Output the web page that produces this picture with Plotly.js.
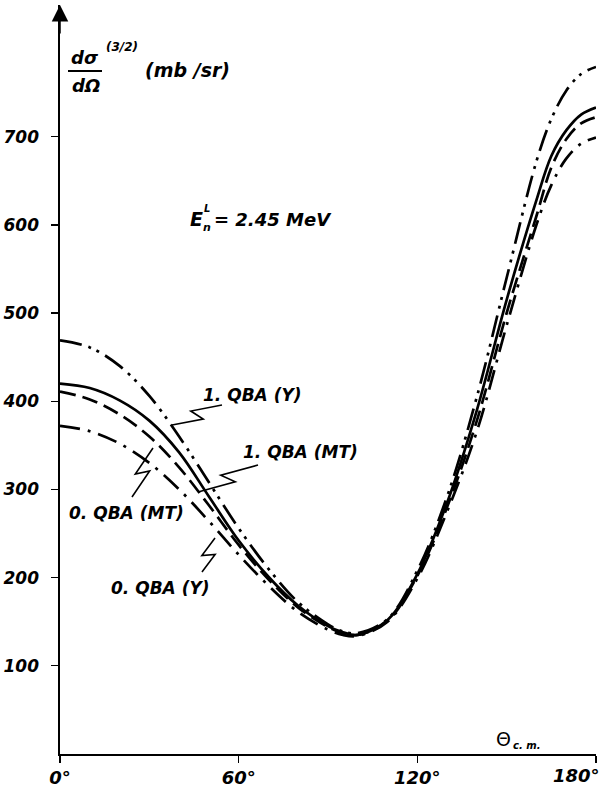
<!DOCTYPE html>
<html>
<head>
<meta charset="utf-8">
<script src="https://cdn.plot.ly/plotly-3.0.1.min.js"></script>
<style>html,body{margin:0;padding:0;background:#fff;}#chart{width:604px;height:791px;}</style>
</head>
<body>
<div id="chart"></div>
<script>
// Scattering angle (degrees, c.m.)
var theta = [0,10,20,30,40,50,60,70,80,90,95,100,110,120,130,140,150,160,165,170,175,180];
// Cross sections dσ/dΩ (mb/sr)
var qba1Y  = [469,461,440,406,360,308,256,210,172,147,139,137,153,208,292,405,540,672,720,752,771,779];
var qba1MT = [420,415,401,378,342,292,242,201,168,145,138,135,152,204,285,390,515,628,678,707,725,733];
var qba0MT = [411,402,385,360,325,282,237,198,166,144,137,135,151,202,280,378,500,610,665,697,715,722];
var qba0Y  = [372,366,352,330,300,264,226,191,161,141,135,134,150,199,275,366,486,600,645,675,692,699];
var seriesNames = ["1. QBA (Y)","1. QBA (MT)","0. QBA (MT)","0. QBA (Y)"];
var xTickVals = [0,60,120,180];
var xTickText = ["0°","60°","120°","180°"];
var yTickVals = [100,200,300,400,500,600,700];

var W=604,H=791, ML=60, MR=8, MT=5, MB=37;
var PW=W-ML-MR, PH=H-MT-MB;
function px(x){return (x-ML)/PW;}
function py(y){return (H-MB-y)/PH;}

var FONT="DejaVu Sans, Verdana, sans-serif";
function mk(y,name,dash){
  return {x:theta,y:y,name:name,type:'scatter',mode:'lines',
    line:{color:'#000',width:2.7,dash:dash,shape:'spline',smoothing:1.0},hoverinfo:'skip'};
}
var data=[
  mk(qba1Y,seriesNames[0],"22px,7px,3px,6px,3px,7px"),
  mk(qba1MT,seriesNames[1],"solid"),
  mk(qba0MT,seriesNames[2],"16px,7px"),
  mk(qba0Y,seriesNames[3],"20px,8px,3px,8px")
];

function txt(t,x,y,size,anchor,upright){
  return {text:t,x:px(x),y:py(y),xref:'paper',yref:'paper',showarrow:false,
    xanchor:anchor||'center',yanchor:'middle',
    font:{family:FONT,size:size,color:'#000',style:upright?'normal':'italic',weight:upright?'normal':'bold'}};
}
var ann=[
  txt("dσ",85,57,18),
  txt("dΩ",86,86,18),
  txt("(3/2)",122,47,12),
  txt("(mb /sr)",187,70,19),
  txt("E",196,219,19),
  txt("L",207,208,10),
  txt("n",207,227,11),
  txt("= 2.45 MeV",212,219,18,'left'),
  txt(seriesNames[0],252,395,17),
  txt(seriesNames[1],300,452,17),
  txt(seriesNames[2],126,513,17),
  txt(seriesNames[3],160,588,17),
  txt("Θ",503,739,19,'center',true),
  txt("c. m.",526,745,10),
  txt(xTickText[3],576,776,18),
  // axis arrow
  {x:0,y:1,xref:'paper',yref:'paper',showarrow:true,ax:0,ay:30,arrowhead:2,arrowsize:2.2,arrowwidth:1.5,arrowcolor:'#000',text:''}
];

function zig(S,E){
  var vx=E[0]-S[0], vy=E[1]-S[1], L=Math.sqrt(vx*vx+vy*vy);
  var nx=-vy/L*6, ny=vx/L*6;
  var A=[S[0]+0.58*vx+nx, S[1]+0.58*vy+ny];
  var B=[S[0]+0.42*vx-nx, S[1]+0.42*vy-ny];
  var pts=[S,A,B,E];
  var p="";
  pts.forEach(function(q,i){p+=(i?" L":"M")+px(q[0]).toFixed(4)+","+py(q[1]).toFixed(4);});
  return {type:'path',path:p,xref:'paper',yref:'paper',line:{color:'#000',width:1.6}};
}
var shapes=[
  {type:'line',xref:'paper',yref:'paper',x0:px(68),x1:px(102),y0:py(71),y1:py(71),line:{color:'#000',width:2}},
  zig([222,405],[172,425]),
  zig([258,465],[198,492]),
  zig([132,497],[153,448]),
  zig([202,572],[215,538])
];

var layout={
  width:W,height:H,margin:{l:ML,r:MR,t:MT,b:MB},
  paper_bgcolor:'#fff',plot_bgcolor:'#fff',showlegend:false,
  xaxis:{range:[0,180],showgrid:false,zeroline:false,showline:true,linecolor:'#000',linewidth:1.6,
    ticks:'outside',ticklen:7,tickwidth:1.4,tickcolor:'#000',tickvals:xTickVals,
    ticktext:[xTickText[0],xTickText[1],xTickText[2],""],
    tickfont:{family:FONT,size:18,color:'#000',style:'italic',weight:'bold'}},
  yaxis:{range:[0,PH/0.882],showgrid:false,zeroline:false,showline:true,linecolor:'#000',linewidth:1.6,
    ticks:'outside',ticklen:7,tickwidth:1.4,tickcolor:'#000',tickvals:yTickVals,
    ticklabelstandoff:9,
    tickfont:{family:FONT,size:17,color:'#000',style:'italic',weight:'bold'}},
  annotations:ann,shapes:shapes
};
Plotly.newPlot('chart',data,layout,{staticPlot:true,displayModeBar:false});
</script>
</body>
</html>
